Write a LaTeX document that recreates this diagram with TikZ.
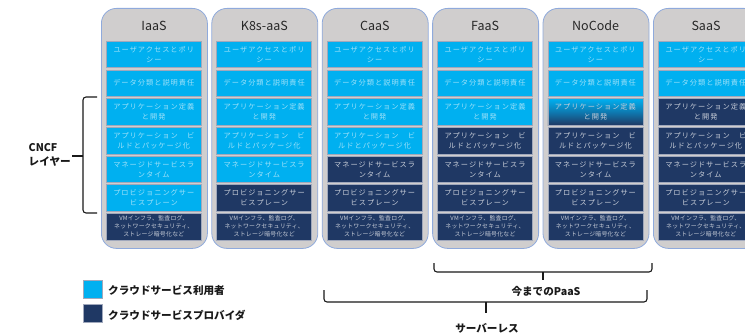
\documentclass[tikz,border=0pt]{standalone}
\usepackage{fontspec}
\setmainfont{Noto Sans CJK JP}
\newfontfamily\bxfont[LetterSpace=14]{Noto Sans CJK JP}
\newfontfamily\smfont[LetterSpace=4]{Noto Sans CJK JP}
\definecolor{lb}{HTML}{00B0F0}
\definecolor{nv}{HTML}{1F3864}
\definecolor{cardfill}{HTML}{D0CECE}
\definecolor{cardline}{HTML}{8FAADC}
\definecolor{boxline}{HTML}{A0A8BC}
\begin{document}
\begin{tikzpicture}[x=1pt,y=-1pt,
  card/.style={draw=cardline,fill=cardfill,line width=0.8pt,rounded corners=15pt,
    minimum width=106pt,minimum height=240pt,anchor=north west,inner sep=0pt},
  ttl/.style={font=\fontsize{12.5}{14}\selectfont,text=black!85},
  bx/.style={draw=boxline,line width=0.6pt,minimum width=95pt,minimum height=26.5pt,
    anchor=north west,inner sep=0pt,align=center,font=\bxfont\fontsize{7.2}{10}\selectfont},
  lbox/.style={bx,fill=lb,text=white!62!lb},
  dbox/.style={bx,fill=nv,text=white!75!nv},
  gbox/.style={bx,top color=lb,bottom color=nv,middle color=lb!55!nv,text=white!75!nv},
  sm/.style={font=\smfont\fontsize{5.9}{7.9}\selectfont},
  lgsq/.style={draw=boxline,line width=0.6pt,minimum width=19pt,minimum height=18pt,inner sep=0pt},
  lbl/.style={font=\bfseries\fontsize{10.6}{14}\selectfont,text=black!90,inner sep=0pt},
  bracepath/.style={draw=black!90,line width=1.1pt,rounded corners=3pt}
]
\useasboundingbox (0,0) rectangle (745,334);
\clip (0,0) rectangle (745,334);

\foreach \nm/\tt/\i/\nd in {I/IaaS/0/1, K/K8s-aaS/1/2, C/CaaS/2/3, F/FaaS/3/4, N/NoCode/4/4, S/SaaS/5/5}{
  \pgfmathsetmacro\cx{101+110.4*\i}
  \node[card] (c\nm) at (\cx,8) {};
  \node[ttl] (t\nm) at (\cx+53,26) {\tt};
  \foreach \r/\txt in {1/{ユーザアクセスとポリ\\シー}, 2/{データ分類と説明責任}, 3/{アプリケーション定義\\と開発},
      4/{アプリケーション　ビ\\ルドとパッケージ化}, 5/{マネージドサービスラ\\ンタイム}, 6/{プロビジョニングサー\\ビスプレーン}}{
    \pgfmathtruncatemacro\isdark{\r>7-\nd}
    \pgfmathtruncatemacro\isgrad{and(\i==4,\r==3)}
    \ifnum\isgrad=1 \def\sty{gbox}\else\ifnum\isdark=1 \def\sty{dbox}\else\def\sty{lbox}\fi\fi
    \node[\sty] (b\nm\r) at (\cx+5,41+28.67*\r-28.67) {\txt};
  }
  \node[dbox,sm] (b\nm7) at (\cx+5,213) {VMインフラ、監査ログ、\\ネットワークセキュリティ、\\ストレージ暗号化など};
}

% left brace
\coordinate (lbT) at (97,97);
\coordinate (lbB) at (97,213);
\coordinate (lbM) at (83,156);
\coordinate (lbTip) at (72,156);
\draw[bracepath] (lbT) -| (83,213) -- (lbB);
\draw[bracepath] (lbM) -- (lbTip);
\node[lbl,align=left,anchor=east] (cncf) at (71,155) {CNCF\\レイヤー};

% legend
\node[lgsq,fill=lb] (lg1) at (92.5,289) {};
\node[lgsq,fill=nv] (lg2) at (92.5,313.5) {};
\node[lbl,anchor=west] (lt1) at (108,290) {クラウドサービス利用者};
\node[lbl,anchor=west] (lt2) at (108,315) {クラウドサービスプロバイダ};

% PaaS brace
\coordinate (pL) at (434,263);
\coordinate (pR) at (652,263);
\coordinate (pM) at (543,272);
\coordinate (pTip) at (543,280);
\draw[bracepath] (pL) |- (652,272) -- (pR);
\draw[bracepath] (pM) -- (pTip);
\node[lbl] (paas) at (546,291) {今までのPaaS};

% serverless brace
\coordinate (sL) at (324,290);
\coordinate (sR) at (647,290);
\coordinate (sM) at (486,302);
\coordinate (sTip) at (486,313);
\draw[bracepath] (sL) |- (647,302) -- (sR);
\draw[bracepath] (sM) -- (sTip);
\node[lbl] (srv) at (487,328) {サーバーレス};
\end{tikzpicture}
\end{document}
